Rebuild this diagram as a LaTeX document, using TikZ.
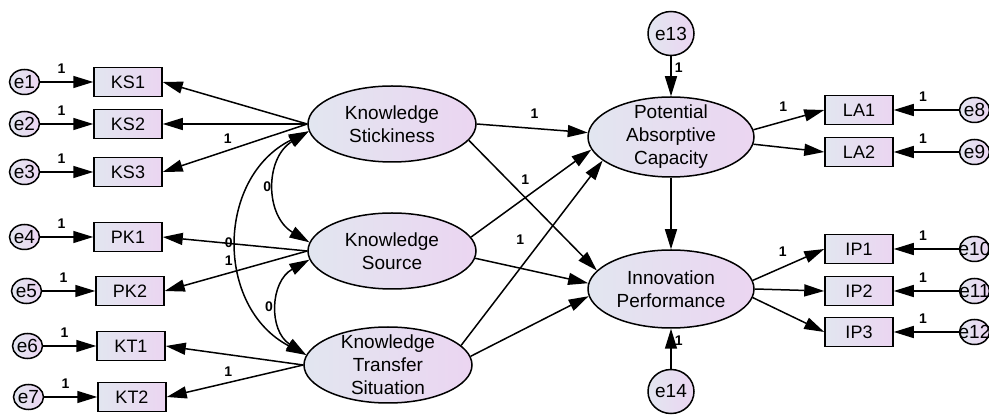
\documentclass[tikz,border=0pt]{standalone}
\usepackage{fontspec}
\setmainfont{Liberation Sans}
\usetikzlibrary{arrows.meta,positioning,shapes.geometric}
\definecolor{amosL}{RGB}{226,230,240}
\definecolor{amosR}{RGB}{235,213,241}
\begin{document}
\begin{tikzpicture}[x=1pt,y=1pt,line width=1.5pt,node distance=53pt,
  >={Triangle[length=20pt,width=12pt]},
  lat/.style={ellipse,draw,left color=amosL,right color=amosR,minimum width=168pt,minimum height=76pt,inner sep=0pt,align=center,font=\fontsize{19}{23}\selectfont},
  obs/.style={rectangle,draw,left color=amosL,right color=amosR,minimum width=68pt,minimum height=29pt,inner sep=0pt,font=\fontsize{18}{18}\selectfont},
  err/.style={ellipse,draw,left color=amosL,right color=amosR,minimum width=30pt,minimum height=25pt,inner sep=-6pt,font=\fontsize{19}{19}\selectfont},
  wt/.style={font=\bfseries\fontsize{14}{14}\selectfont,inner sep=1pt}]
\useasboundingbox (0,0) rectangle (989,415);
\node[lat] (ks) at (392,291) {Knowledge\\Stickiness};
\node[lat] (src) at (392,164) {Knowledge\\Source};
\node[lat,inner sep=-10pt] (kt) at (388,50) {Knowledge\\Transfer\\Situation};
\node[lat,minimum width=166pt,minimum height=80pt,inner sep=-10pt] (pac) at (671,278) {Potential\\Absorptive\\Capacity};
\node[lat,minimum width=166pt,minimum height=78pt] (ip) at (671,126) {Innovation\\Performance};
\node[obs] (ks1) at (128,333) {KS1};
\node[obs] (ks2) at (128,291) {KS2};
\node[obs] (ks3) at (128,243) {KS3};
\node[obs] (pk1) at (128,178) {PK1};
\node[obs] (pk2) at (130,124) {PK2};
\node[obs] (kt1) at (131,69) {KT1};
\node[obs] (kt2) at (132,18) {KT2};
\node[obs] (la1) at (859,305) {LA1};
\node[obs] (la2) at (859,263) {LA2};
\node[obs] (ip1) at (859,166) {IP1};
\node[obs] (ip2) at (859,124) {IP2};
\node[obs] (ip3) at (859,83) {IP3};
\node[err,left=of ks1] (e1) {e1};
\node[err,left=of ks2] (e2) {e2};
\node[err,left=of ks3] (e3) {e3};
\node[err,left=of pk1] (e4) {e4};
\node[err,left=of pk2] (e5) {e5};
\node[err,left=of kt1] (e6) {e6};
\node[err,left=of kt2] (e7) {e7};
\node[err,right=65pt of la1] (e8) {e8};
\node[err,right=65pt of la2] (e9) {e9};
\node[err,right=65pt of ip1] (e10) {e10};
\node[err,right=65pt of ip2] (e11) {e11};
\node[err,right=65pt of ip3] (e12) {e12};
\node[err,minimum width=46pt,minimum height=44pt,above=40pt of pac] (e13) {e13};
\node[err,minimum width=46pt,minimum height=44pt,below=40pt of ip] (e14) {e14};
\foreach \e/\b in {e1/ks1,e2/ks2,e3/ks3,e4/pk1,e5/pk2,e6/kt1,e7/kt2}
  \draw[->] (\e) -- node[wt,above=7pt,pos=0.4] (w\e) {1} (\b);
\foreach \e/\b in {e8/la1,e9/la2,e10/ip1,e11/ip2,e12/ip3}
  \draw[->] (\e) -- node[wt,above=7pt,pos=0.55] (w\e) {1} (\b);
\draw[->] (ks.west) -- (ks1.east);
\draw[->] (ks.west) -- (ks2.east);
\draw[->] (ks.west) -- node[wt,above=5pt,pos=0.55] (wks3) {1} (ks3.east);
\draw[->] (src.west) -- (pk1.east);
\draw[->] (src.west) -- node[wt,above=6pt,pos=0.55] (wpk2) {1} (pk2.east);
\draw[->] (kt.west) -- (kt1.east);
\draw[->] (kt.west) -- node[wt,above=4pt,pos=0.55] (wkt2) {1} (kt2.east);
\draw[<->] (ks.185) to[bend right=59,looseness=1.19] node[wt,left=3pt] (cov1) {0} (src.174);
\draw[<->] (src.186) to[bend right=59,looseness=1.21] node[wt,left=4pt] (cov2) {0} (kt.173);
\draw[<->] (ks.185) to[bend right=63,looseness=1.18] node[wt,left=4pt] (cov3) {0} (kt.173);
\draw[->] (ks.east) -- node[wt,above=8pt,pos=0.52] (b1) {1} (pac.177);
\draw[->] (ks.-12) -- (ip.166);
\draw[->] (src.10) -- node[wt,above=11pt,pos=0.45] (b2) {1} (pac.189);
\draw[->] (src.-5) -- (ip.176);
\draw[->] (kt.15) -- node[wt,left=16pt,pos=0.57] (b3) {1} (pac.199);
\draw[->] (kt.6) -- (ip.185);
\draw[->] (pac) -- (ip);
\draw[->] (e13) -- node[wt,right=2pt,pos=0.28] (w13) {1} (pac);
\draw[->] (e14) -- node[wt,right=2pt,pos=0.7] (w14) {1} (ip);
\draw[->] (pac.5) -- node[wt,above=8pt,pos=0.42] (wla1) {1} (la1.west);
\draw[->] (pac.-5) -- (la2.west);
\draw[->] (ip.6) -- node[wt,above=9pt,pos=0.42] (wip1) {1} (ip1.west);
\draw[->] (ip.east) -- (ip2.west);
\draw[->] (ip.-6) -- (ip3.west);
\end{tikzpicture}
\end{document}
